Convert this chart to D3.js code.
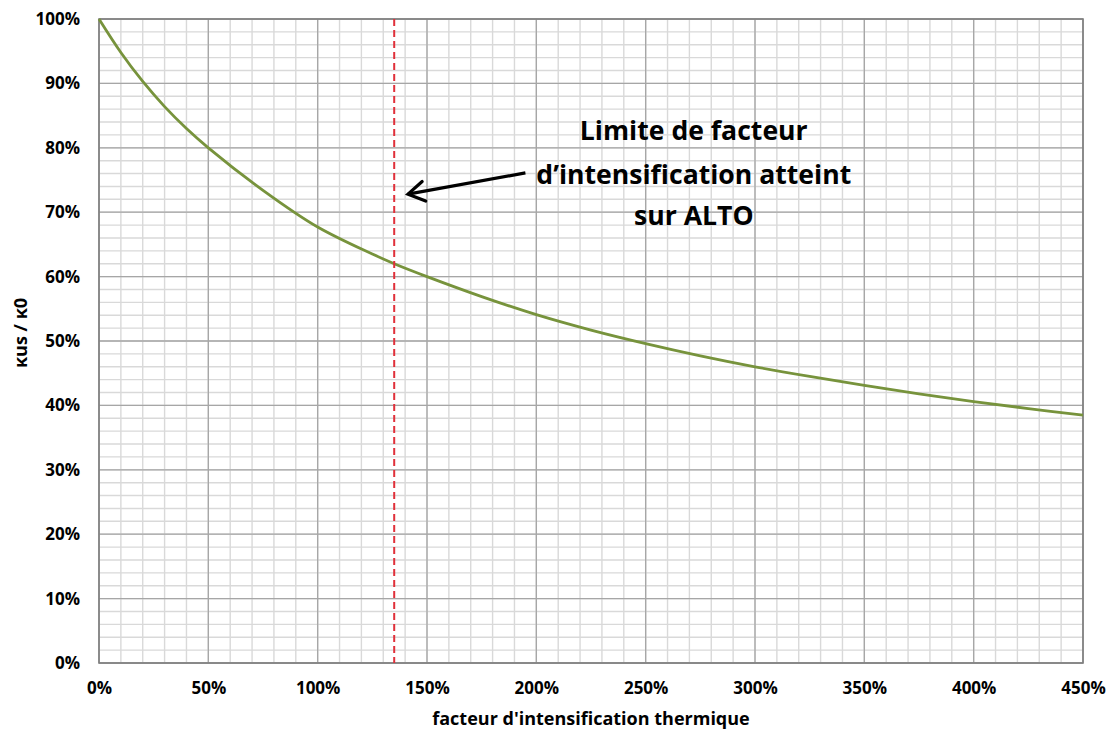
<!DOCTYPE html>
<html>
<head>
<meta charset="utf-8">
<script src="https://cdn.jsdelivr.net/npm/d3@7"></script>
<style>
  html, body { margin: 0; padding: 0; background: #fff; }
  svg { display: block; }
  text { font-family: "Open Sans", Lato, sans-serif; font-weight: bold; fill: #000; }
</style>
</head>
<body>
<svg id="chart" width="1111" height="731"></svg>
<script>
// Thermal intensification factor (x) vs. conductivity ratio κus / κ0 (y)
const factor = [0, 0.10, 0.20, 0.30, 0.40, 0.50, 0.75, 1.00, 1.25, 1.35, 1.50, 1.75, 2.00, 2.25, 2.50, 2.75, 3.00, 3.25, 3.50, 3.75, 4.00, 4.25, 4.50];
const ratio  = [1.000, 0.948, 0.903, 0.864, 0.830, 0.800, 0.734, 0.677, 0.635, 0.620, 0.600, 0.569, 0.541, 0.517, 0.496, 0.477, 0.460, 0.445, 0.431, 0.418, 0.406, 0.395, 0.385];

const xTicks = [0, 0.5, 1.0, 1.5, 2.0, 2.5, 3.0, 3.5, 4.0, 4.5];
const yTicks = [0, 0.1, 0.2, 0.3, 0.4, 0.5, 0.6, 0.7, 0.8, 0.9, 1.0];

// Limit reached on ALTO
const limitFactor = 1.35;
const noteLines = ["Limite de facteur", "d\u2019intensification atteint", "sur ALTO"];
const xTitle = "facteur d'intensification thermique";
const yTitle = "\u03bAus / \u03ba0";

const margin = { left: 99, right: 28, top: 19, bottom: 68 };
const W = 1111, H = 731;
const svg = d3.select("#chart");

const x = d3.scaleLinear().domain([0, 4.5]).range([margin.left, W - margin.right]);
const y = d3.scaleLinear().domain([0, 1]).range([H - margin.bottom, margin.top]);
const pct = d3.format(".0%");

// minor grid
const g = svg.append("g");
g.selectAll("line.vmin").data(d3.range(0, 46).map(i => i / 10)).join("line")
  .attr("x1", d => x(d)).attr("x2", d => x(d))
  .attr("y1", y(0)).attr("y2", y(1))
  .attr("stroke", "#d9d9d9").attr("stroke-width", 1.4);
g.selectAll("line.hmin").data(d3.range(0, 51).map(i => i / 50)).join("line")
  .attr("y1", d => y(d)).attr("y2", d => y(d))
  .attr("x1", x(0)).attr("x2", x(4.5))
  .attr("stroke", "#d9d9d9").attr("stroke-width", 1.4);

// major grid
g.selectAll("line.vmaj").data(xTicks).join("line")
  .attr("x1", d => x(d)).attr("x2", d => x(d))
  .attr("y1", y(0)).attr("y2", y(1))
  .attr("stroke", "#a6a6a6").attr("stroke-width", 1.3);
g.selectAll("line.hmaj").data(yTicks).join("line")
  .attr("y1", d => y(d)).attr("y2", d => y(d))
  .attr("x1", x(0)).attr("x2", x(4.5))
  .attr("stroke", "#a6a6a6").attr("stroke-width", 1.3);

// plot frame
svg.append("rect")
  .attr("x", x(0)).attr("y", y(1))
  .attr("width", x(4.5) - x(0)).attr("height", y(0) - y(1))
  .attr("fill", "none").attr("stroke", "#7f7f7f").attr("stroke-width", 1.6);

// axes
const xAxis = svg.append("g").attr("transform", `translate(0,${y(0)})`)
  .call(d3.axisBottom(x).tickValues(xTicks).tickFormat(pct).tickSize(0).tickPadding(19));
const yAxis = svg.append("g").attr("transform", `translate(${x(0)},0)`)
  .call(d3.axisLeft(y).tickValues(yTicks).tickFormat(pct).tickSize(0).tickPadding(19));
[xAxis, yAxis].forEach(a => {
  a.select(".domain").remove();
  a.selectAll("text").style("font-size", "17px").style("font-family", "'Open Sans', sans-serif").style("font-weight", "bold").attr("fill", "#000");
});

// curve
const pts = factor.map((f, i) => [f, ratio[i]]);
svg.append("path").datum(pts)
  .attr("fill", "none").attr("stroke", "#77933c").attr("stroke-width", 2.8)
  .attr("d", d3.line().x(d => x(d[0])).y(d => y(d[1])).curve(d3.curveCatmullRom.alpha(0.5)));

// limit line
svg.append("line")
  .attr("x1", x(limitFactor)).attr("x2", x(limitFactor))
  .attr("y1", y(1)).attr("y2", y(0))
  .attr("stroke", "#e0303a").attr("stroke-width", 2).attr("stroke-dasharray", "7,4");

// annotation arrow
const tail = [x(1.95), y(0.761)], tip = [x(1.413), y(0.728)];
svg.append("line")
  .attr("x1", tail[0]).attr("y1", tail[1]).attr("x2", tip[0]).attr("y2", tip[1])
  .attr("stroke", "#000").attr("stroke-width", 3.2);
const ang = Math.atan2(tail[1] - tip[1], tail[0] - tip[0]);
const arm = 19, spread = 0.55;
svg.append("path")
  .attr("d", `M${tip[0] + arm * Math.cos(ang - spread)},${tip[1] + arm * Math.sin(ang - spread)}L${tip[0]},${tip[1]}L${tip[0] + arm * Math.cos(ang + spread)},${tip[1] + arm * Math.sin(ang + spread)}`)
  .attr("fill", "none").attr("stroke", "#000").attr("stroke-width", 3.2)
  .attr("stroke-linejoin", "miter").attr("stroke-linecap", "round");

// annotation text
const noteY = [0.828, 0.760, 0.696];
svg.append("g").selectAll("text").data(noteLines).join("text")
  .attr("x", x(2.72)).attr("y", (d, i) => y(noteY[i]))
  .attr("text-anchor", "middle").attr("dominant-baseline", "central")
  .style("font-size", "26.6px").text(d => d);

// axis titles
svg.append("text").attr("x", (x(0) + x(4.5)) / 2).attr("y", 718)
  .attr("text-anchor", "middle").attr("dominant-baseline", "central")
  .style("font-size", "18px").text(xTitle);
svg.append("text").attr("transform", `translate(20,333) rotate(-90)`)
  .attr("text-anchor", "middle").attr("dominant-baseline", "central")
  .style("font-size", "18px").text(yTitle);
</script>
</body>
</html>
